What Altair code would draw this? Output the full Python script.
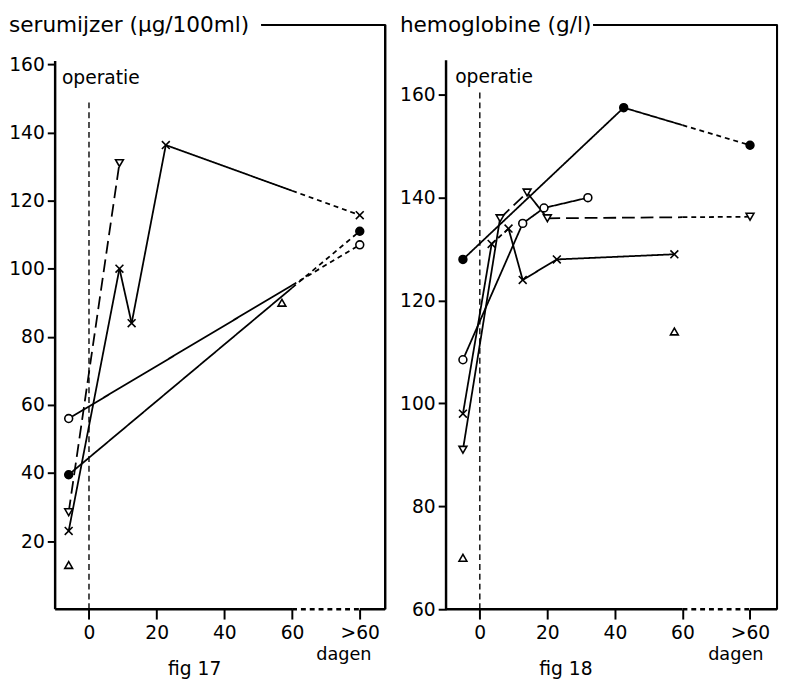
import altair as alt
import pandas as pd

FONT = "DejaVu Sans"

# ---------------- Fig 17: serumijzer (ug/100ml) ----------------
L_TITLE = "serumijzer (μg/100ml)"
L_FIG = "fig 17"
L_X_MIN, L_X_MAX = -10, 87.5
L_Y_MIN, L_Y_TOP = 0, 171.6
L_AXIS_TOP = 161
L_YTICKS = [20, 40, 60, 80, 100, 120, 140, 160]
L_OPER_TOP = 150

L_down_x = [-6, 9]
L_down_y = [28.5, 131]
L_down_style = ["long"]

L_cross_x = [-6, 9, 12.6, 22.7, 80]
L_cross_y = [23, 100, 84, 136.3, 115.7]
L_cross_style = ["solid", "solid", "solid", "break"]

L_open_x = [-6, 80]
L_open_y = [56, 107]
L_open_style = ["break"]

L_filled_x = [-6, 80]
L_filled_y = [39.5, 111]
L_filled_style = ["break"]

L_up_x = [-6, 57]
L_up_y = [13, 90]

# ---------------- Fig 18: hemoglobine (g/l) ----------------
R_TITLE = "hemoglobine (g/l)"
R_FIG = "fig 18"
R_X_MIN, R_X_MAX = -10, 88
R_Y_MIN, R_Y_TOP = 60, 173.6
R_AXIS_TOP = 166.7
R_YTICKS = [60, 80, 100, 120, 140, 160]
R_OPER_TOP = 161

R_filled_x = [-5, 42.6, 80]
R_filled_y = [128, 157.5, 150.2]
R_filled_style = ["solid", "break"]

R_down_x = [-5, 6, 14, 20, 80]
R_down_y = [91, 136, 141, 136, 136.3]
R_down_style = ["solid", "long", "solid", "breaklong"]

R_open_x = [-5, 12.7, 19, 32]
R_open_y = [108.5, 135, 138, 140]
R_open_style = ["solid", "solid", "solid"]

R_cross_x = [-5, 3.5, 8.5, 12.7, 22.8, 57.6]
R_cross_y = [98, 131, 134, 124, 128, 129]
R_cross_style = ["solid", "dash", "solid", "solid", "solid"]

R_up_x = [-5, 57.6]
R_up_y = [70, 114]

# x axis: ticks and the broken-axis position (">60" drawn at 80)
X_TICKS = [0, 20, 40, 60, 80]
BREAK = 60
GT60 = 80

SHAPES = {
    "down": "triangle-down",
    "cross": "M-1,-1L1,1M-1,1L1,-1",
    "open": "circle",
    "filled": "circle",
    "up": "triangle-up",
}
FILLS = {"down": "white", "cross": "white", "open": "white", "filled": "black", "up": "white"}


def build_segments(name, xs, ys, styles):
    rows = []
    for i, st in enumerate(styles):
        x0, y0, x1, y1 = xs[i], ys[i], xs[i + 1], ys[i + 1]
        if st.startswith("break"):
            before = "long" if st == "breaklong" else "solid"
            t = (BREAK - x0) / (x1 - x0)
            yb = y0 + t * (y1 - y0)
            rows += [dict(seg=f"{name}{i}a", x=x0, y=y0, dash=before),
                     dict(seg=f"{name}{i}a", x=BREAK, y=yb, dash=before),
                     dict(seg=f"{name}{i}b", x=BREAK, y=yb, dash="dash"),
                     dict(seg=f"{name}{i}b", x=x1, y=y1, dash="dash")]
        else:
            rows += [dict(seg=f"{name}{i}", x=x0, y=y0, dash=st),
                     dict(seg=f"{name}{i}", x=x1, y=y1, dash=st)]
    return rows


def panel(series, title, fig, xmin, xmax, ymin, ytop, axis_top, yticks, oper_top,
          oper_label_xy, W, H, title_end, fig_x):
    seg_rows, pt_rows = [], []
    for name, xs, ys, styles in series:
        if styles:
            seg_rows += build_segments(name, xs, ys, styles)
        for x, y in zip(xs, ys):
            pt_rows.append(dict(series=name, x=x, y=y))
    seg_df = pd.DataFrame(seg_rows)
    pt_df = pd.DataFrame(pt_rows)

    xs = alt.Scale(domain=[xmin, xmax], nice=False, zero=False)
    ys = alt.Scale(domain=[ymin, ytop], nice=False, zero=False)

    xaxis = alt.Axis(values=X_TICKS, labelExpr="datum.value == 80 ? '>60' : datum.label",
                     domain=False, grid=False, tickSize=10, tickWidth=2, tickColor="black",
                     labelFont=FONT, labelFontSize=19, labelColor="black", labelPadding=5,
                     title=None)
    yaxis = alt.Axis(values=yticks, domain=False, grid=False, tickSize=8, tickWidth=2,
                     tickColor="black", labelFont=FONT, labelFontSize=19, labelColor="black",
                     labelPadding=3, title=None)

    base = alt.Chart(seg_df)

    lines = base.mark_line(color="black", strokeWidth=1.8).encode(
        x=alt.X("x:Q", scale=xs, axis=xaxis),
        y=alt.Y("y:Q", scale=ys, axis=yaxis),
        detail="seg:N",
        strokeDash=alt.StrokeDash("dash:N", legend=None,
                                  scale=alt.Scale(domain=["solid", "dash", "long"],
                                                  range=[[1, 0], [5, 4], [13, 6]])),
    )

    names = list(SHAPES.keys())
    points = alt.Chart(pt_df).mark_point(size=64, strokeWidth=1.6, stroke="black",
                                         opacity=1, filled=False).encode(
        x="x:Q", y="y:Q",
        shape=alt.Shape("series:N", legend=None,
                        scale=alt.Scale(domain=names, range=[SHAPES[n] for n in names])),
        fill=alt.Fill("series:N", legend=None,
                      scale=alt.Scale(domain=names, range=[FILLS[n] for n in names])),
    )

    oper = alt.Chart(pd.DataFrame({"x": [0], "y": [ymin], "y2": [oper_top]})).mark_rule(
        color="black", strokeWidth=1.4, strokeDash=[6, 4]).encode(x="x:Q", y="y:Q", y2="y2:Q")

    oper_txt = alt.Chart(pd.DataFrame({"x": [oper_label_xy[0]], "y": [oper_label_xy[1]],
                                       "t": ["operatie"]})).mark_text(
        font=FONT, fontSize=19, align="left", baseline="middle", color="black").encode(
        x="x:Q", y="y:Q", text="t:N")

    # frame: left axis line, bottom (broken) axis, right border, top line
    frame = pd.DataFrame({
        "x": [xmin, xmin, BREAK, GT60],
        "x2": [xmin, BREAK, GT60, xmax],
        "y": [ymin, ymin, ymin, ymin],
        "y2": [axis_top, ymin, ymin, ymin],
        "kind": ["solid", "solid", "dash", "solid"],
    })
    frame_rules = alt.Chart(frame).mark_rule(color="black", strokeWidth=2.5).encode(
        x="x:Q", x2="x2:Q", y="y:Q", y2="y2:Q",
        strokeDash=alt.StrokeDash("kind:N", legend=None,
                                  scale=alt.Scale(domain=["solid", "dash"], range=[[1, 0], [6, 4]])),
    )
    right_border = alt.Chart(frame).mark_rule(color="black", strokeWidth=2).encode(
        x=alt.value(W), y=alt.value(0), y2=alt.value(H))
    top_line = alt.Chart(frame).mark_rule(color="black", strokeWidth=1.8).encode(
        x=alt.value(title_end), x2=alt.value(W), y=alt.value(0))

    title_txt = alt.Chart(pd.DataFrame({"t": [title]})).mark_text(
        font=FONT, fontSize=22, align="left", baseline="middle", color="black").encode(
        x=alt.value(-47), y=alt.value(0), text="t:N")
    dagen = alt.Chart(pd.DataFrame({"t": ["dagen"]})).mark_text(
        font=FONT, fontSize=18, align="center", baseline="middle", color="black").encode(
        x=alt.value(W - 42), y=alt.value(H + 47), text="t:N")
    fig_txt = alt.Chart(pd.DataFrame({"t": [fig]})).mark_text(
        font=FONT, fontSize=19, align="center", baseline="middle", color="black").encode(
        x=alt.value(fig_x), y=alt.value(H + 61), text="t:N")

    return alt.layer(oper, lines, points, frame_rules, right_border, top_line,
                     oper_txt, title_txt, dagen, fig_txt).properties(width=W, height=H)


left = panel(
    [("down", L_down_x, L_down_y, L_down_style),
     ("cross", L_cross_x, L_cross_y, L_cross_style),
     ("open", L_open_x, L_open_y, L_open_style),
     ("filled", L_filled_x, L_filled_y, L_filled_style),
     ("up", L_up_x, L_up_y, [])],
    L_TITLE, L_FIG, L_X_MIN, L_X_MAX, L_Y_MIN, L_Y_TOP, L_AXIS_TOP, L_YTICKS, L_OPER_TOP,
    (-8, 156), 336, 595, 210, 142)

right = panel(
    [("filled", R_filled_x, R_filled_y, R_filled_style),
     ("down", R_down_x, R_down_y, R_down_style),
     ("open", R_open_x, R_open_y, R_open_style),
     ("cross", R_cross_x, R_cross_y, R_cross_style),
     ("up", R_up_x, R_up_y, [])],
    R_TITLE, R_FIG, R_X_MIN, R_X_MAX, R_Y_MIN, R_Y_TOP, R_AXIS_TOP, R_YTICKS, R_OPER_TOP,
    (-7.3, 163.4), 337, 595, 150, 122)

chart = alt.hconcat(left, right, spacing=12).resolve_scale(
    x="independent", y="independent", shape="independent", fill="independent",
    strokeDash="independent").configure_view(stroke=None).properties(
    padding={"left": 0, "top": 0, "right": 0, "bottom": 0})

chart.save("out.html", embed_options={"renderer": "svg", "actions": False})
